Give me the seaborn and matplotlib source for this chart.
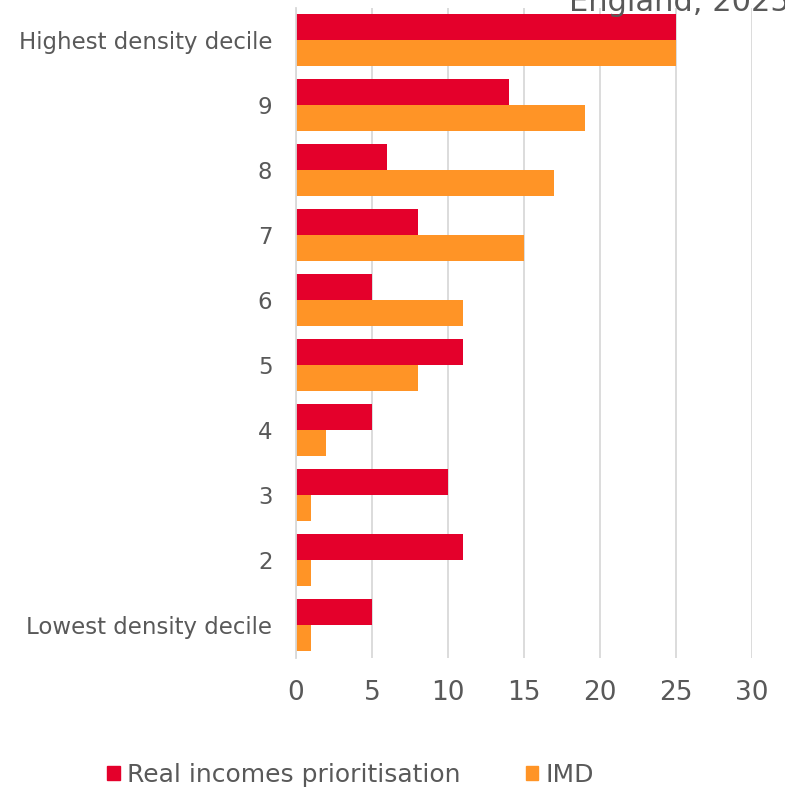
import pandas as pd
import seaborn as sns
import matplotlib.pyplot as plt
from matplotlib.patches import Patch

# categories top to bottom
deciles = ['Highest density decile', '9', '8', '7', '6', '5', '4', '3', '2', 'Lowest density decile']
real_incomes = [25, 14, 6, 8, 5, 11, 5, 10, 11, 5]
imd = [25, 19, 17, 15, 11, 8, 2, 1, 1, 1]
series = ['Real incomes prioritisation', 'IMD']
colours = ['#E4002B', '#FF9426']

df = pd.DataFrame({
    'decile': deciles * 2,
    'value': real_incomes + imd,
    'series': [series[0]] * len(deciles) + [series[1]] * len(deciles),
})

sns.set_style('white')
plt.rcParams['font.family'] = ['DejaVu Sans']
txt = '#595959'

fig = plt.figure(figsize=(7.85, 7.87), dpi=100)
ax = fig.add_axes([296 / 785, 1 - 657.5 / 787, (752 - 296) / 785, 650 / 787])

sns.barplot(data=df, y='decile', x='value', hue='series', order=deciles,
            hue_order=series, palette=colours, orient='h', width=0.8,
            saturation=1, linewidth=0, ax=ax, legend=False)

ax.set_xlim(0, 30)
ax.set_xticks(range(0, 31, 5))
ax.set_xlabel('')
ax.set_ylabel('')
ax.grid(axis='x', color='#D9D9D9', linewidth=1.3)
ax.set_axisbelow(True)
for s in ['top', 'right', 'bottom']:
    ax.spines[s].set_visible(False)
ax.spines['left'].set_color('#D9D9D9')
ax.spines['left'].set_linewidth(1.3)
ax.tick_params(axis='x', length=0, pad=16, labelsize=19, labelcolor=txt)
ax.tick_params(axis='y', length=0, pad=17, labelsize=16.5, labelcolor=txt)

# title sits partly above the top edge, as in the source
fig.text(1.006, 1 - 11 / 787, 'England, 2025', ha='right', va='baseline',
         fontsize=22, color=txt)

handles = [Patch(color=c, label=s) for c, s in zip(colours, series)]
fig.legend(handles=handles, loc='center', bbox_to_anchor=(0.447, 1 - 775 / 787),
           ncol=2, frameon=False, fontsize=18, labelcolor=txt,
           handlelength=0.5, handleheight=0.5, handletextpad=0.3,
           columnspacing=2.6)

fig.savefig('out.png', dpi=100)
